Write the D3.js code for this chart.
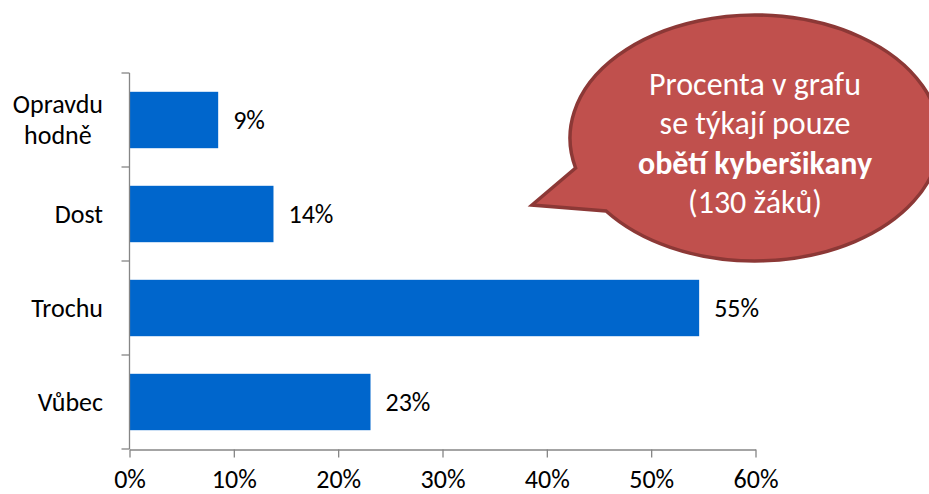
<!DOCTYPE html>
<html><head><meta charset="utf-8">
<script src="https://cdn.jsdelivr.net/npm/d3@7"></script>
<style>
body{margin:0;background:#fff}
svg{display:block}
text{font-family:Carlito, Lato, "Open Sans", sans-serif}
</style>
</head><body>
<svg id="chart" width="929" height="494"></svg>
<script>
// ---- data ----
const categories = ["Opravdu hodně", "Dost", "Trochu", "Vůbec"];
const categoryLines = [["Opravdu", "hodně"], ["Dost"], ["Trochu"], ["Vůbec"]];
const values = [8.5, 13.8, 54.6, 23.1];
const valueLabels = ["9%", "14%", "55%", "23%"];
const xTicks = [0, 10, 20, 30, 40, 50, 60];
const xTickLabels = ["0%", "10%", "20%", "30%", "40%", "50%", "60%"];
const calloutLines = [
  {t: "Procenta v grafu", bold: false},
  {t: "se týkají pouze", bold: false},
  {t: "obětí kyberšikany", bold: true},
  {t: "(130 žáků)", bold: false}
];

// ---- layout ----
const svg = d3.select("#chart");
const axisColor = "#868686";
const barColor = "#0066CC";
const fs = 26;

const x = d3.scaleLinear().domain([0, 60]).range([129.5, 755.5]);
const y = d3.scaleBand().domain(categories).range([73, 449])
  .paddingInner(0.4).paddingOuter(0.2);

// bars
svg.append("g").selectAll("rect").data(categories).join("rect")
  .attr("x", x(0))
  .attr("y", d => y(d))
  .attr("width", (d, i) => x(values[i]) - x(0))
  .attr("height", y.bandwidth())
  .attr("fill", barColor);

// value labels
svg.append("g").selectAll("text").data(categories).join("text")
  .attr("x", (d, i) => x(values[i]) + 15)
  .attr("y", d => y(d) + y.bandwidth() / 2 + 9)
  .attr("font-size", fs)
  .attr("fill", "#000")
  .text((d, i) => valueLabels[i]);

// x axis
const xAxis = d3.axisBottom(x).tickValues(xTicks)
  .tickFormat((d, i) => xTickLabels[i]).tickSize(8).tickSizeOuter(0);
const gx = svg.append("g").attr("transform", "translate(0,449.5)").call(xAxis);
gx.select(".domain").attr("stroke", axisColor).attr("stroke-width", 1.3);
gx.selectAll(".tick line").attr("stroke", axisColor).attr("stroke-width", 1.3);
gx.selectAll(".tick text").attr("font-size", fs).attr("fill", "#000")
  .attr("font-family", "Carlito, Lato, sans-serif").attr("dy", null).attr("y", 38);

// y axis (boundaries)
const bounds = d3.range(categories.length + 1).map(i => y.range()[0] + i * y.step());
const gy = svg.append("g");
gy.append("line").attr("x1", x(0)).attr("x2", x(0))
  .attr("y1", bounds[0]).attr("y2", bounds[bounds.length - 1])
  .attr("stroke", axisColor).attr("stroke-width", 1.3);
gy.selectAll("line.tk").data(bounds).join("line").attr("class", "tk")
  .attr("x1", x(0) - 8).attr("x2", x(0)).attr("y1", d => d).attr("y2", d => d)
  .attr("stroke", axisColor).attr("stroke-width", 1.3);

// category labels
const labelRight = 103;
const lineH = 31;
categories.forEach((c, i) => {
  const lines = categoryLines[i];
  const g = svg.append("g");
  const cy = y(c) + y.bandwidth() / 2;
  const texts = lines.map((l, j) => g.append("text")
    .attr("font-size", fs).attr("fill", "#000")
    .attr("y", cy + 8.5 + (j - (lines.length - 1) / 2) * lineH)
    .text(l));
  const w = d3.max(texts, t => t.node().getComputedTextLength());
  texts.forEach(t => t.attr("text-anchor", "middle").attr("x", labelRight - w / 2));
});

// callout
const cx = 755, cyE = 138, rx = 185, ry = 123;
function ptAtY(yy) {
  const s = (yy - cyE) / ry;
  return [cx - rx * Math.sqrt(1 - s * s), yy];
}
const p1 = ptAtY(168), p2 = ptAtY(211), tip = [532, 205];
const path = `M${p1[0]},${p1[1]} A${rx},${ry} 0 1 1 ${p2[0]},${p2[1]} L${tip[0]},${tip[1]} Z`;
svg.append("path").attr("d", path)
  .attr("fill", "#C0504D").attr("stroke", "#8C3836").attr("stroke-width", 3.5)
  .attr("stroke-linejoin", "miter");

const cfs = 32;
svg.append("g").selectAll("text").data(calloutLines).join("text")
  .attr("x", cx).attr("y", (d, i) => 95 + i * 39.3)
  .attr("text-anchor", "middle")
  .attr("font-size", cfs)
  .attr("font-weight", d => d.bold ? "bold" : "normal")
  .attr("fill", "#fff")
  .text(d => d.t);
</script>
</body></html>
